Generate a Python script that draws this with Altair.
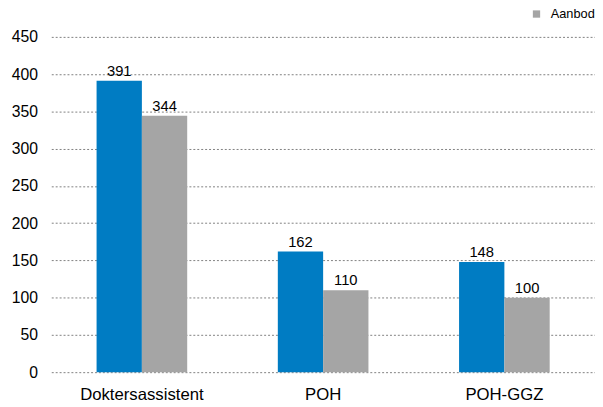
import altair as alt
import pandas as pd

categories = ["Doktersassistent", "POH", "POH-GGZ"]
series = ["Vraag", "Aanbod"]
vraag = [391, 162, 148]
aanbod = [344, 110, 100]
y_ticks = [0, 50, 100, 150, 200, 250, 300, 350, 400, 450]

rows = []
for c, v, a in zip(categories, vraag, aanbod):
    rows.append({"cat": c, "serie": "Vraag", "val": v})
    rows.append({"cat": c, "serie": "Aanbod", "val": a})
df = pd.DataFrame(rows)

FONT = "Liberation Sans"

x = alt.X("cat:N", sort=categories, title=None,
          scale=alt.Scale(paddingInner=0.5, paddingOuter=0.25),
          axis=alt.Axis(labelAngle=0, domain=False, ticks=False, labelPadding=15,
                        labelFontSize=17, labelColor="#000000", labelFont=FONT))
xo = alt.XOffset("serie:N", sort=series, scale=alt.Scale(paddingInner=0, paddingOuter=0))
y = alt.Y("val:Q", title=None,
          scale=alt.Scale(domain=[0, 450], nice=False, zero=True),
          axis=alt.Axis(values=y_ticks, domain=False, ticks=False, labelOverlap=False,
                        labelPadding=14, labelFontSize=16, labelColor="#000000",
                        labelFont=FONT, grid=True, gridDash=[2, 2],
                        gridColor="#7f7f7f", gridWidth=1))

base = alt.Chart(df).encode(x=x, xOffset=xo, y=y)

bars = base.mark_bar().encode(
    color=alt.Color("serie:N", scale=alt.Scale(domain=series, range=["#007CC3", "#A5A5A5"]),
                    legend=alt.Legend(title=None, orient="none", legendX=487, legendY=-30,
                                      direction="horizontal", values=["Aanbod", "Vraag"],
                                      symbolType="square", symbolSize=55, labelFontSize=13,
                                      labelFont=FONT, labelColor="#000000", columnPadding=20,
                                      labelOffset=8)),
)

labels = base.mark_text(baseline="bottom", dy=-2, fontSize=15, font=FONT, color="#000000").encode(
    text=alt.Text("val:Q"),
)

chart = (bars + labels).properties(
    width=553, height=341,
    autosize=alt.AutoSizeParams(type="none"),
    padding={"left": 44, "top": 26, "right": 0, "bottom": 30},
).configure_view(stroke=None).configure_axis(gridOpacity=1)

chart.save("out.html", embed_options={"renderer": "svg", "actions": False})
